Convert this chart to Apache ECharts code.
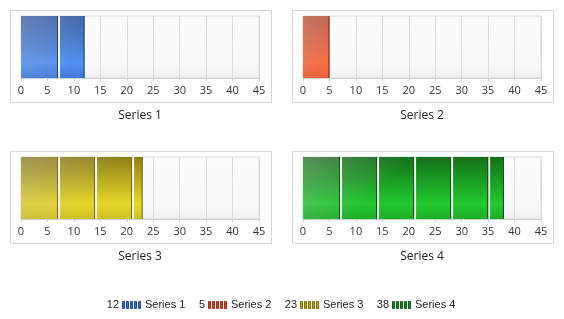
<!DOCTYPE html>
<html><head><meta charset="utf-8">
<script src="https://cdn.jsdelivr.net/npm/echarts@6/dist/echarts.min.js"></script>
<style>html,body{margin:0;padding:0;background:#fff}#c{width:564px;height:319px}</style>
</head><body><div id="c"></div>
<script>
// ---- data ----
const categories = ['Series 1', 'Series 2', 'Series 3', 'Series 4'];
const values = [12, 5, 23, 38];
const segmentSize = 7;
const axisMin = 0, axisMax = 45, axisInterval = 5;

// ---- styles ----
const palette = [
  { top: '#2a56a6', mid: '#4f90f4', bot: '#3f79da', edge: '#1c3d7e', legend: '#3b6fc4', legendEdge: '#1f4a94' },
  { top: '#c4472a', mid: '#ff6232', bot: '#ea5428', edge: '#8a2710', legend: '#d24a22', legendEdge: '#9a2e10' },
  { top: '#8f7f14', mid: '#e6d72c', bot: '#d0c024', edge: '#76680e', legend: '#b8a61c', legendEdge: '#7d6e0c' },
  { top: '#137018', mid: '#22c830', bot: '#1eae28', edge: '#0d5412', legend: '#1c8c22', legendEdge: '#0e5c12' }
];
const panels = [
  { left: 21, top: 16, box: [10.5, 10.5, 261, 92] },
  { left: 303, top: 16, box: [292.5, 10.5, 261, 92] },
  { left: 21, top: 157, box: [10.5, 151.5, 261, 92] },
  { left: 303, top: 157, box: [292.5, 151.5, 261, 92] }
];
const plotW = 238, plotH = 62;
const labelFont = '"Open Sans", "Noto Sans", sans-serif';

function segmentsOf(v) {
  const out = [];
  for (let s = 0; s < v; s += segmentSize) out.push([s, Math.min(v, s + segmentSize)]);
  return out;
}

const grids = [], xAxes = [], yAxes = [], series = [], graphics = [];
categories.forEach((name, i) => {
  const p = panels[i], c = palette[i];
  grids.push({
    left: p.left, top: p.top, width: plotW, height: plotH, show: true,
    borderColor: '#d9d9d9', borderWidth: 1,
    backgroundColor: { type: 'linear', x: 0, y: 0, x2: 0, y2: 1,
      colorStops: [{ offset: 0, color: '#fcfcfc' }, { offset: 0.8, color: '#f8f8f8' }, { offset: 1, color: '#efefef' }] }
  });
  xAxes.push({
    gridIndex: i, type: 'value', min: axisMin, max: axisMax, interval: axisInterval,
    name: name, nameLocation: 'middle', nameGap: 32,
    nameTextStyle: { fontFamily: labelFont, fontSize: 12, color: '#222' },
    axisLine: { show: true, lineStyle: { color: '#cfcfcf' } },
    axisTick: { show: true, length: 3, lineStyle: { color: '#cfcfcf' } },
    axisLabel: { fontFamily: labelFont, fontSize: 11, color: '#333', margin: 7 },
    splitLine: { show: true, lineStyle: { color: '#dadada' } }
  });
  yAxes.push({ gridIndex: i, type: 'value', min: 0, max: 1, show: false, splitLine: { show: false } });
  series.push({
    type: 'custom', xAxisIndex: i, yAxisIndex: i, clip: true,
    data: segmentsOf(values[i]),
    renderItem: function (params, api) {
      const a = api.coord([api.value(0), 1]);
      const b = api.coord([api.value(1), 0]);
      const first = api.value(0) === 0;
      const x0 = a[0] + (first ? 0 : 2);
      const x1 = b[0];
      const y0 = a[1], h = b[1] - a[1];
      const w = Math.max(1, x1 - x0);
      return {
        type: 'group',
        children: [
          { type: 'rect', shape: { x: x0, y: y0, width: w, height: h },
            style: { fill: { type: 'linear', x: 0, y: 0, x2: 0, y2: 1,
              colorStops: [{ offset: 0, color: c.top }, { offset: 0.75, color: c.mid }, { offset: 1, color: c.bot }] } } },
          { type: 'rect', shape: { x: x0, y: y0, width: w, height: h },
            style: { fill: { type: 'linear', global: true, x: p.left, y: p.top, x2: p.left + 55, y2: p.top + 55,
              colorStops: [{ offset: 0, color: 'rgba(190,190,190,0.4)' }, { offset: 1, color: 'rgba(190,190,190,0)' }] } } },
          { type: 'rect', shape: { x: x0 + w - 1, y: y0, width: 1, height: h }, style: { fill: c.edge } }
        ]
      };
    }
  });
  graphics.push({ type: 'rect', shape: { x: p.box[0], y: p.box[1], width: p.box[2], height: p.box[3] },
    style: { fill: 'none', stroke: '#d6d6d6', lineWidth: 1 }, z: -1 });
});

// legend: value, striped icon, name
const legendIconX = [122, 208, 300, 392];
const legendY = 305;
categories.forEach((name, i) => {
  const c = palette[i], ix = legendIconX[i];
  graphics.push({ type: 'text', x: ix - 3, y: legendY, style: { text: String(values[i]), align: 'right', verticalAlign: 'middle',
    font: '11px "Liberation Sans", Arial, sans-serif', fill: '#222' } });
  for (let k = 0; k < 5; k++) {
    graphics.push({ type: 'rect', shape: { x: ix + k * 4 + 0.5, y: legendY - 3.5, width: 2, height: 7 },
      style: { fill: c.legend, stroke: c.legendEdge, lineWidth: 1 } });
  }
  graphics.push({ type: 'text', x: ix + 23, y: legendY, style: { text: name, align: 'left', verticalAlign: 'middle',
    font: '11px "Liberation Sans", Arial, sans-serif', fill: '#222' } });
});

const chart = echarts.init(document.getElementById('c'), null, { renderer: 'canvas' });
chart.setOption({
  animation: false,
  grid: grids, xAxis: xAxes, yAxis: yAxes, series: series,
  graphic: graphics
});
</script></body></html>
